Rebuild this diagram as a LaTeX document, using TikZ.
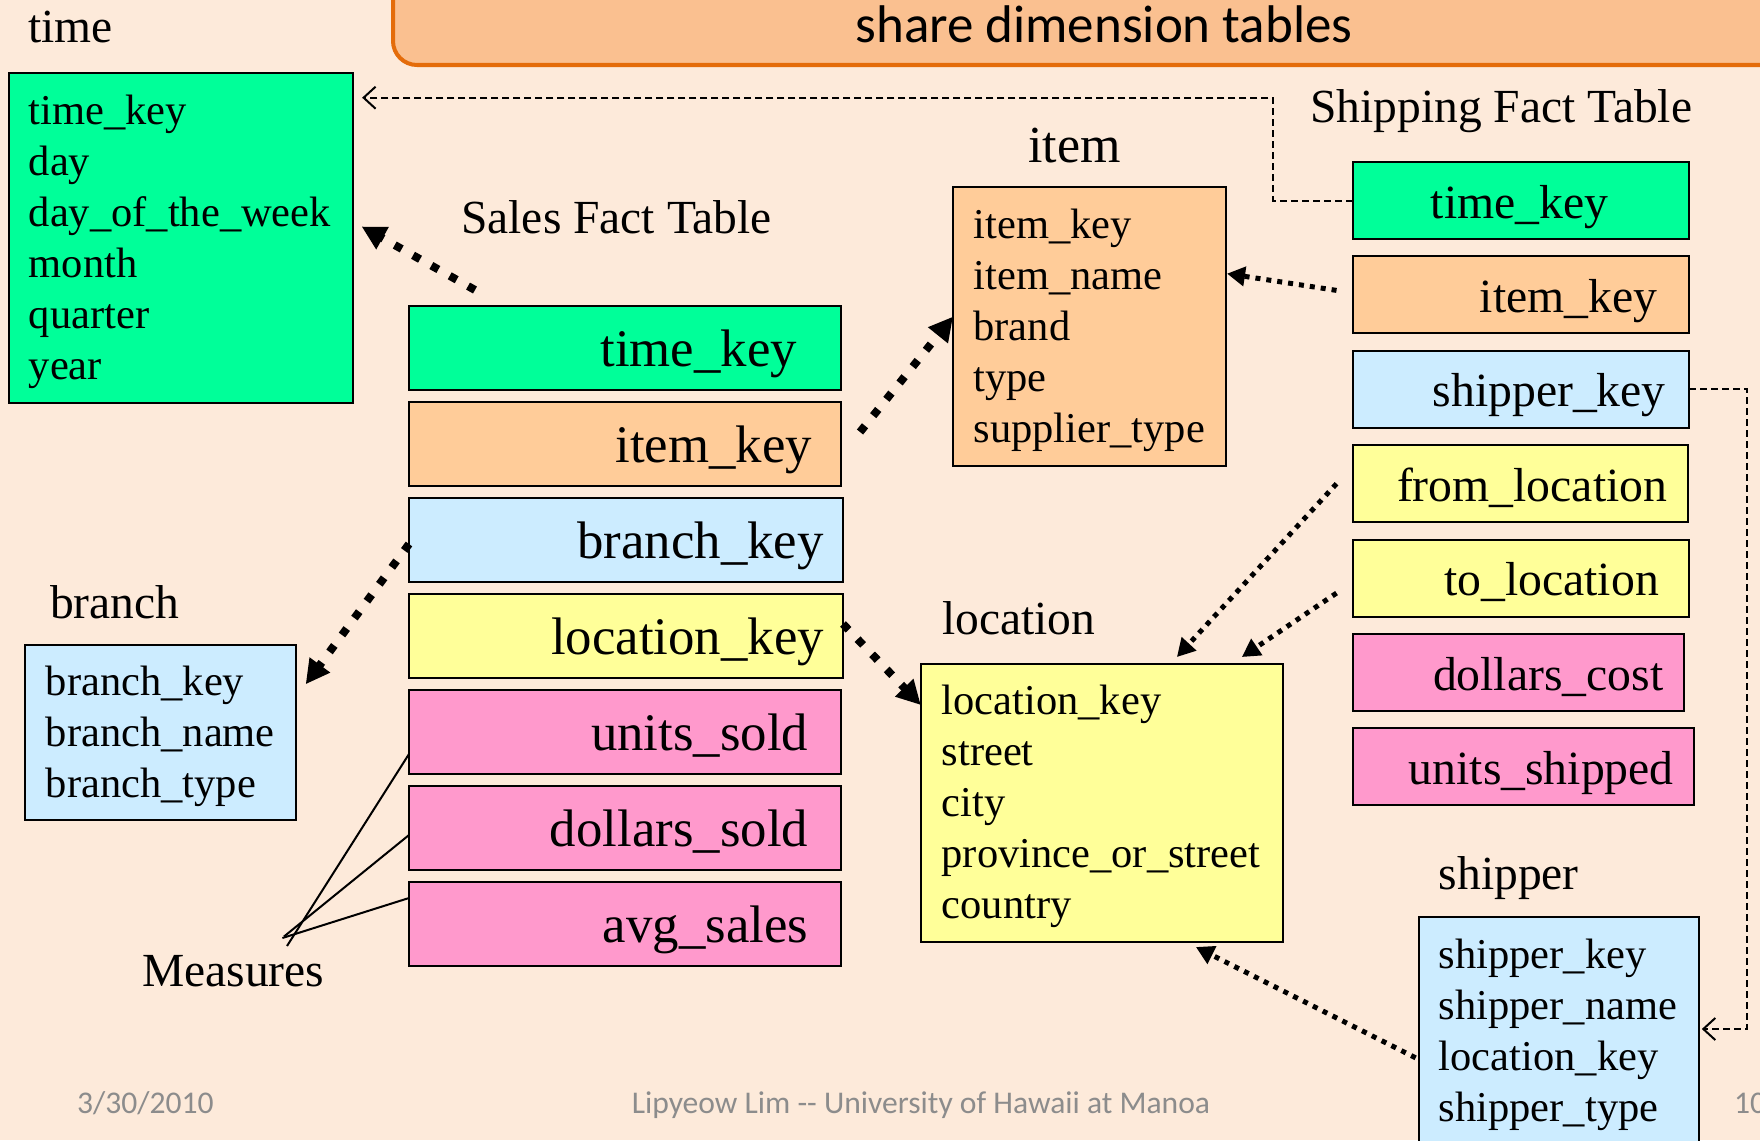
\documentclass[tikz,border=0pt]{standalone}
\usepackage{fontspec}
\setmainfont{Liberation Serif}
\newfontfamily\calibri{Carlito}
\usetikzlibrary{arrows.meta,calc}
\definecolor{bg}{RGB}{253,234,218}
\definecolor{tgreen}{RGB}{0,255,153}
\definecolor{torange}{RGB}{255,204,153}
\definecolor{tblue}{RGB}{204,236,255}
\definecolor{tyellow}{RGB}{255,255,153}
\definecolor{tpink}{RGB}{255,153,204}
\definecolor{titlefill}{RGB}{250,192,144}
\definecolor{titleline}{RGB}{228,108,10}
\definecolor{footgray}{RGB}{140,140,140}
\tikzset{
  tbl/.style={draw=black, line width=2pt, anchor=north west, inner sep=0pt, outer sep=0pt},
  dimtext/.style={anchor=base west, align=left, text width=400pt, inner sep=0pt, font=\fontsize{42.5}{51}\selectfont},
  lbl/.style={anchor=base west, inner sep=0pt, font=\fontsize{47.5}{57}\selectfont},
  stext/.style={anchor=base east, inner sep=0pt, font=\fontsize{52.8}{60}\selectfont},
  shtext/.style={anchor=base east, inner sep=0pt, font=\fontsize{47.7}{57}\selectfont},
  bigdots/.style={line width=8pt, dash pattern=on 8pt off 13pt, -{Triangle[length=24pt,width=24pt]}},
  smalldots/.style={line width=5pt, dash pattern=on 5pt off 6pt, -{Triangle[length=18pt,width=19pt]}},
  dashconn/.style={line width=2pt, dash pattern=on 7pt off 4pt, -{Straight Barb[length=12pt,width=22pt]}},
  meas/.style={line width=2pt},
  foot/.style={inner sep=0pt, font=\calibri\fontsize{31.6}{36}\selectfont, text=footgray},
}
\begin{document}
\begin{tikzpicture}[x=1pt,y=-1pt]
\useasboundingbox (0,0) rectangle (1760,1140);
\clip (0,0) rectangle (1760,1140);
\fill[bg] (0,0) rectangle (1760,1140);

% title bar
\draw[titleline, line width=4pt, fill=titlefill, rounded corners=24pt] (393,-40) rectangle (1800,65);
\node[anchor=base, inner sep=0pt, font=\calibri\fontsize{53}{60}\selectfont] (title) at (1104,43) {share dimension tables};

% time dimension
\node[lbl] (timelbl) at (28,42) {time};
\node[tbl, fill=tgreen, minimum width=344.5pt, minimum height=330pt] (time) at (8.6,72.5) {};
\node[dimtext] (timetxt) at ($(time.north west)+(20,51.5)$) {time\_key\\day\\day\_of\_the\_week\\month\\quarter\\year};

% item dimension
\node[lbl, font=\fontsize{52}{60}\selectfont] (itemlbl) at (1028,162) {item};
\node[tbl, fill=torange, minimum width=273pt, minimum height=278.7pt] (item) at (953,187.3) {};
\node[dimtext] (itemtxt) at ($(item.north west)+(20.3,51.5)$) {item\_key\\item\_name\\brand\\type\\supplier\_type};

% branch dimension
\node[lbl] (branchlbl) at (50,618) {branch};
\node[tbl, fill=tblue, minimum width=271pt, minimum height=174.5pt] (branch) at (24.7,645) {};
\node[dimtext] (branchtxt) at ($(branch.north west)+(21,50.5)$) {branch\_key\\branch\_name\\branch\_type};

% location dimension
\node[lbl] (loclbl) at (942,634) {location};
\node[tbl, fill=tyellow, minimum width=362.2pt, minimum height=278pt] (location) at (920.8,664) {};
\node[dimtext] (loctxt) at ($(location.north west)+(20.7,50.5)$) {location\_key\\street\\city\\province\_or\_street\\country};

% shipper dimension
\node[lbl] (shipperlbl) at (1438.6,889) {shipper};
\node[tbl, fill=tblue, minimum width=280.7pt, minimum height=240pt] (shipper) at (1418.6,916.8) {};
\node[dimtext] (shippertxt) at ($(shipper.north west)+(20,52)$) {shipper\_key\\shipper\_name\\location\_key\\shipper\_type};

% sales fact table
\node[lbl] (saleslbl) at (461,233) {Sales Fact Table};
\node[tbl, fill=tgreen, minimum width=432pt, minimum height=84pt] (stime) at (409,306) {};
\node[stext] (stimetxt) at ($(stime.east)+(-44,18.5)$) {time\_key};
\node[tbl, fill=torange, minimum width=432pt, minimum height=84pt] (sitem) at (409,402) {};
\node[stext] (sitemtxt) at ($(sitem.east)+(-29,18.5)$) {item\_key};
\node[tbl, fill=tblue, minimum width=434pt, minimum height=84pt] (sbranch) at (409,498) {};
\node[stext] (sbranchtxt) at ($(sbranch.east)+(-19,18.5)$) {branch\_key};
\node[tbl, fill=tyellow, minimum width=434pt, minimum height=84pt] (sloc) at (409,594) {};
\node[stext] (sloctxt) at ($(sloc.east)+(-19,18.5)$) {location\_key};
\node[tbl, fill=tpink, minimum width=432pt, minimum height=84pt] (sunits) at (409,690) {};
\node[stext] (sunitstxt) at ($(sunits.east)+(-32.7,18.5)$) {units\_sold};
\node[tbl, fill=tpink, minimum width=432pt, minimum height=84pt] (sdollars) at (409,786) {};
\node[stext] (sdollarstxt) at ($(sdollars.east)+(-32.7,18.5)$) {dollars\_sold};
\node[tbl, fill=tpink, minimum width=432pt, minimum height=84pt] (savg) at (409,882) {};
\node[stext] (savgtxt) at ($(savg.east)+(-32.7,18.5)$) {avg\_sales};

% shipping fact table
\node[lbl] (shiplbl) at (1310,122) {Shipping Fact Table};
\node[tbl, fill=tgreen, minimum width=336.5pt, minimum height=77pt] (shtime) at (1352.5,162) {};
\node[shtext] (shtimetxt) at ($(shtime.east)+(-80.5,17.5)$) {time\_key};
\node[tbl, fill=torange, minimum width=336.5pt, minimum height=77pt] (shitem) at (1352.5,256.4) {};
\node[shtext] (shitemtxt) at ($(shitem.east)+(-31.5,17.5)$) {item\_key};
\node[tbl, fill=tblue, minimum width=336.5pt, minimum height=77pt] (shship) at (1352.5,350.8) {};
\node[shtext] (shshiptxt) at ($(shship.east)+(-23,17.5)$) {shipper\_key};
\node[tbl, fill=tyellow, minimum width=335.5pt, minimum height=77pt] (shfrom) at (1352.5,445.2) {};
\node[shtext] (shfromtxt) at ($(shfrom.east)+(-20.5,17.5)$) {from\_location};
\node[tbl, fill=tyellow, minimum width=336.5pt, minimum height=77pt] (shto) at (1352.5,539.6) {};
\node[shtext] (shtotxt) at ($(shto.east)+(-30,17.5)$) {to\_location};
\node[tbl, fill=tpink, minimum width=331.5pt, minimum height=77pt] (shdoll) at (1352.5,634) {};
\node[shtext] (shdolltxt) at ($(shdoll.east)+(-20.3,17.5)$) {dollars\_cost};
\node[tbl, fill=tpink, minimum width=341.5pt, minimum height=77pt] (shunits) at (1352.5,728.4) {};
\node[shtext] (shunitstxt) at ($(shunits.east)+(-20,17.5)$) {units\_shipped};

% measures
\node[lbl] (measlbl) at (142,986) {Measures};
\coordinate (m1) at (287,946);
\coordinate (m2) at (284,936.5);
\coordinate (m3) at (282.4,938);
\draw[meas] (m1) -- ($(sunits.west)+(0,22)$);
\draw[meas] (m2) -- ($(sdollars.west)+(0,7)$);
\draw[meas] (m3) -- ($(savg.west)+(0,-26)$);

% sales fact connectors
\draw[bigdots] ($(stime.north west)+(66,-16)$) -- ($(time.east)+(8.5,-11)$);
\draw[bigdots] ($(sitem.east)+(19,-12)$) -- ($(item.west)+(0,-10)$);
\draw[bigdots] ($(sbranch.west)+(0,4)$) -- ($(branch.east)+(10,-48)$);
\draw[bigdots] ($(sloc.east)+(0,-12)$) -- ($(location.west)+(0,-98)$);

% shipping fact connectors
\coordinate (tbend) at (1273.3,97.7);
\draw[dashconn] (shtime.west) -| (tbend) -- ($(time.north east)+(9,25.2)$);
\draw[smalldots] ($(shitem.west)+(-16,-4.5)$) -- ($(item.east)+(1,-53)$);
\coordinate (sbend) at (1747,1029);
\draw[dashconn] (shship.east) -| (sbend) -- ($(shipper.north east)+(2.5,112.2)$);
\draw[smalldots] ($(shfrom.west)+(-16,0)$) -- ($(location.north)+(75,-7)$);
\draw[smalldots] ($(shto.west)+(-16,15)$) -- ($(location.north)+(140,-7)$);
\draw[smalldots] ($(shipper.north west)+(-3,141)$) -- ($(location.south)+(94,5)$);

% footer
\node[foot, anchor=base west] (date) at (77,1113) {3/30/2010};
\node[foot, anchor=base] (author) at (921,1113) {Lipyeow Lim -- University of Hawaii at Manoa};
\node[foot, anchor=base west] (page) at (1734,1113) {10};
\end{tikzpicture}
\end{document}
